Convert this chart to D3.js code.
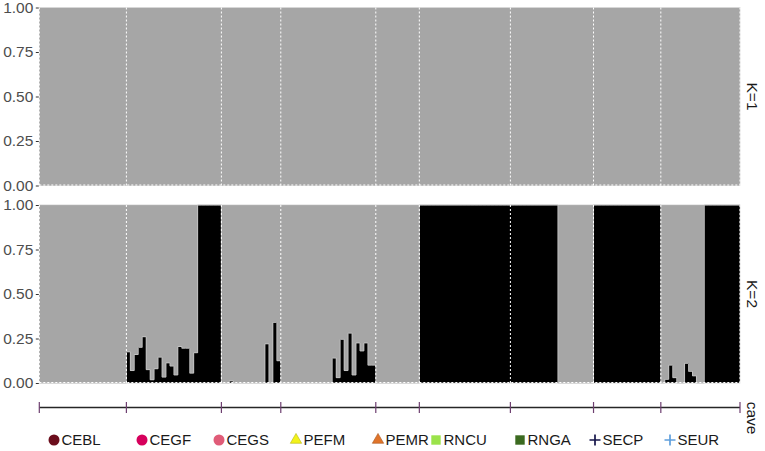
<!DOCTYPE html>
<html><head><meta charset="utf-8">
<script src="https://cdn.jsdelivr.net/npm/d3@7"></script>
<style>body{margin:0;background:#fff;} text{font-family:"Liberation Sans",Arial,sans-serif;}</style>
</head><body><svg id="c" width="765" height="451"></svg>
<script>
// ---------------- data ----------------
const populations = ["CEBL","CEGF","CEGS","PEFM","PEMR","RNCU","RNGA","SECP","SEUR"];
const popColors   = ["#6b0d1c","#d6005c","#e05c78","#f2f21a","#e0742a","#9be34a","#3b6a20","#15154a","#5f9fdc"];
const popShapes   = ["circle","circle","circle","triangle","triangle","square","square","plus","plus"];
const kLabels = ["K=1","K=2"];
const yTicks = [0, 0.25, 0.5, 0.75, 1];

// K=1: membership in cluster 2 (black) per individual, grouped by population
const k1CEBL = [0,0,0,0,0,0,0,0,0,0,0,0,0,0,0,0,0,0,0,0,0,0];
const k1CEGF = [0,0,0,0,0,0,0,0,0,0,0,0,0,0,0,0,0,0,0,0,0,0,0,0];
const k1CEGS = [0,0,0,0,0,0,0,0,0,0,0,0,0,0,0];
const k1PEFM = [0,0,0,0,0,0,0,0,0,0,0,0,0,0,0,0,0,0,0,0,0,0,0,0];
const k1PEMR = [0,0,0,0,0,0,0,0,0,0,0];
const k1RNCU = [0,0,0,0,0,0,0,0,0,0,0,0,0,0,0,0,0,0,0,0,0,0,0];
const k1RNGA = [0,0,0,0,0,0,0,0,0,0,0,0,0,0,0,0,0,0,0,0,0];
const k1SECP = [0,0,0,0,0,0,0,0,0,0,0,0,0,0,0,0,0];
const k1SEUR = [0,0,0,0,0,0,0,0,0,0,0,0,0,0,0,0,0,0,0,0];

// K=2: membership in cluster 2 (black) per individual
const k2CEBL = [0,0,0,0,0,0,0,0,0,0,0,0,0,0,0,0,0,0,0,0,0,0];
const k2CEGF = [0.175,0.07,0.16,0.2,0.26,0.075,0.018,0.08,0.145,0.033,0.113,0.095,0.045,0.205,0.195,0.195,0.055,0.17,1,1,1,1,1,1];
const k2CEGS = [0,0,0.012,0,0,0,0,0,0,0,0,0.22,0,0.34,0.125];
const k2PEFM = [0,0,0,0,0,0,0,0,0,0,0,0,0,0.14,0.03,0.245,0.07,0.28,0.045,0.225,0.18,0.225,0.1,0.1];
const k2PEMR = [0,0,0,0,0,0,0,0,0,0,0];
const k2RNCU = [1,1,1,1,1,1,1,1,1,1,1,1,1,1,1,1,1,1,1,1,1,1,1];
const k2RNGA = [1,1,1,1,1,1,1,1,1,1,1,1,0,0,0,0,0,0,0,0,0];
const k2SECP = [1,1,1,1,1,1,1,1,1,1,1,1,1,1,1,1,1];
const k2SEUR = [0,0.02,0.1,0.03,0,0,0.11,0.065,0.04,0,0,1,1,1,1,1,1,1,1,1];

const k1Groups = [k1CEBL,k1CEGF,k1CEGS,k1PEFM,k1PEMR,k1RNCU,k1RNGA,k1SECP,k1SEUR];
const k2Groups = [k2CEBL,k2CEGF,k2CEGS,k2PEFM,k2PEMR,k2RNCU,k2RNGA,k2SECP,k2SEUR];

// ---------------- layout ----------------
const left = 39.3, right = 740;
const panels = [{top: 7.5, bottom: 185.5}, {top: 205, bottom: 383}];
const legendKeyX = [54, 142, 219, 296, 378, 436, 520, 595, 670];
const legendY = 440;
const FONT = '"Liberation Sans",Arial,sans-serif';

const svg = d3.select("#c");

function flatten(groups){
  const out = [];
  groups.forEach((g, gi) => g.forEach(v => out.push({pop: populations[gi], q2: v})));
  return out;
}
const kData = [flatten(k1Groups), flatten(k2Groups)];
const N = kData[0].length;
const sizes = k1Groups.map(g => g.length);
const bounds = [0]; sizes.forEach(s => bounds.push(bounds[bounds.length-1] + s));

const x = d3.scaleLinear().domain([0, N]).range([left, right]);

kData.forEach((data, ki) => {
  const p = panels[ki];
  const y = d3.scaleLinear().domain([0, 1]).range([p.bottom, p.top]);
  const g = svg.append("g");
  data.forEach((d, i) => { d.i = i; });

  g.selectAll("rect.c1").data(data).join("rect")
    .attr("x", d => x(d.i)).attr("width", d => x(d.i + 1) - x(d.i))
    .attr("y", y(1)).attr("height", d => y(d.q2) - y(1))
    .attr("fill", "#a6a6a6").attr("shape-rendering", "crispEdges");
  g.selectAll("rect.c2").data(data.filter(d => d.q2 > 0)).join("rect")
    .attr("x", d => x(d.i)).attr("width", d => x(d.i + 1) - x(d.i))
    .attr("y", d => y(d.q2)).attr("height", d => y(0) - y(d.q2))
    .attr("fill", "#000").attr("shape-rendering", "crispEdges");

  const pts = data.map(d => [x(d.i), y(d.q2)]);
  pts.push([x(N), y(data[N-1].q2)]);
  g.append("path").attr("d", d3.line().curve(d3.curveStepAfter)(pts))
    .attr("fill", "none").attr("stroke", "#c4c4c4").attr("stroke-width", 0.9);

  g.append("rect").attr("x", left).attr("y", p.top).attr("width", right - left).attr("height", p.bottom - p.top)
    .attr("fill", "none").attr("stroke", "#bdbdbd").attr("stroke-width", 0.6);

  g.selectAll("line.sep").data(bounds).join("line")
    .attr("x1", b => x(b)).attr("x2", b => x(b))
    .attr("y1", p.top).attr("y2", p.bottom)
    .attr("stroke", "#fff").attr("stroke-width", 1).attr("stroke-dasharray", "2,2");
  g.append("line").attr("x1", left).attr("x2", right).attr("y1", p.bottom - 0.5).attr("y2", p.bottom - 0.5)
    .attr("stroke", "#fff").attr("stroke-width", 1).attr("stroke-dasharray", "2,2");

  const ax = svg.append("g").attr("transform", `translate(${left - 0.5},0)`)
    .call(d3.axisLeft(y).tickValues(yTicks).tickFormat(d3.format(".2f")).tickSize(3).tickPadding(2.5));
  ax.select(".domain").remove();
  ax.selectAll(".tick line").attr("stroke", "#333");
  ax.selectAll(".tick text").attr("fill", "#4d4d4d").style("font-size", "15.5px").style("font-family", FONT);

  svg.append("text").attr("transform", `translate(752,${(p.top + p.bottom)/2}) rotate(90)`)
    .attr("text-anchor", "middle").attr("dy", "0.35em")
    .style("font-size", "15.5px").attr("fill", "#1a1a1a").text(kLabels[ki]);
});

// bottom population axis
const axY = 407.5;
svg.append("line").attr("x1", x(0)).attr("x2", x(N)).attr("y1", axY).attr("y2", axY)
  .attr("stroke", "#262626").attr("stroke-width", 1.3);
svg.selectAll("line.ptick").data(bounds).join("line")
  .attr("x1", b => x(b)).attr("x2", b => x(b)).attr("y1", axY - 5.5).attr("y2", axY + 5.5)
  .attr("stroke", "#6e3f70").attr("stroke-width", 1.2);
svg.append("text").attr("transform", `translate(752,418) rotate(90)`)
  .attr("text-anchor", "middle").attr("dy", "0.35em")
  .style("font-size", "15.5px").attr("fill", "#1a1a1a").text("cave");

// legend
const lg = svg.append("g");
populations.forEach((name, i) => {
  const cx = legendKeyX[i], cy = legendY;
  const c = popColors[i];
  const shp = popShapes[i];
  if (shp === "circle") {
    lg.append("circle").attr("cx", cx).attr("cy", cy).attr("r", 5.5).attr("fill", c);
  } else if (shp === "triangle") {
    lg.append("path").attr("d", d3.symbol(d3.symbolTriangle, 56)()).attr("transform", `translate(${cx},${cy})`)
      .attr("fill", c).attr("stroke", d3.color(c).darker(0.8)).attr("stroke-width", 0.6);
  } else if (shp === "square") {
    lg.append("rect").attr("x", cx - 4.7).attr("y", cy - 4.7).attr("width", 9.4).attr("height", 9.4).attr("fill", c);
  } else {
    lg.append("path").attr("d", `M${cx-5.5},${cy}H${cx+5.5}M${cx},${cy-5.5}V${cy+5.5}`)
      .attr("stroke", c).attr("stroke-width", 1.7);
  }
  lg.append("text").attr("x", cx + 7.5).attr("y", cy).attr("dy", "0.36em")
    .style("font-size", "15px").attr("fill", "#1a1a1a").text(name);
});
</script></body></html>
